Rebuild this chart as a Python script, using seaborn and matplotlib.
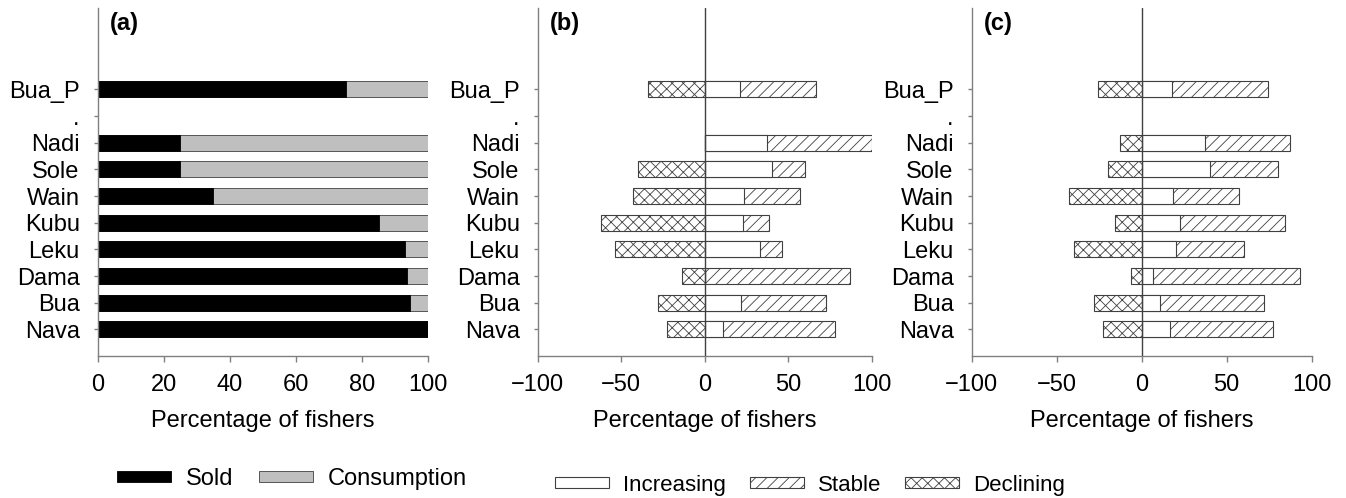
import matplotlib
matplotlib.use("Agg")
import matplotlib.pyplot as plt
from matplotlib.patches import Patch
import numpy as np
import pandas as pd
import seaborn as sns

# ---------------- data ----------------
villages = ["Bua_P", ".", "Nadi", "Sole", "Wain", "Kubu", "Leku", "Dama", "Bua", "Nava"]
data_villages = ["Bua_P", "Nadi", "Sole", "Wain", "Kubu", "Leku", "Dama", "Bua", "Nava"]

# panel (a)
sold = [75, 25, 25, 35, 85, 93, 93.5, 94.5, 100]
consumption = [25, 75, 75, 65, 15, 7, 6.5, 5.5, 0]

# panel (b)
b_increasing = [21, 37.5, 40, 23.5, 23, 33, 0, 22, 11]
b_stable = [45.5, 62.5, 20, 33.5, 15.5, 13.5, 87, 50.5, 67]
b_declining = [34, 0, 40, 43, 62, 54, 13.5, 28, 22.5]

# panel (c)
c_increasing = [18, 37.5, 40, 18.5, 22.5, 20, 6.5, 11, 16.5]
c_stable = [56, 50, 40, 38.5, 62, 40, 86.5, 61, 61]
c_declining = [26, 12.5, 20, 43, 15.5, 40, 6.5, 28, 22.5]

xticks_a = [0, 20, 40, 60, 80, 100]
xticks_bc = [-100, -50, 0, 50, 100]
panel_labels = ["(a)", "(b)", "(c)"]
xlabel = "Percentage of fishers"

# ---------------- style ----------------
sns.set_style("white")
plt.rcParams["font.family"] = ["Liberation Sans", "DejaVu Sans"]
plt.rcParams["hatch.linewidth"] = 0.6
plt.rcParams["hatch.color"] = "#404040"
plt.rcParams["text.color"] = "black"
plt.rcParams["axes.labelcolor"] = "black"
plt.rcParams["xtick.labelcolor"] = "black"
plt.rcParams["ytick.labelcolor"] = "black"

FS = 17
SPINE = "#808080"
EDGE = "#404040"

fig = plt.figure(figsize=(13.46, 4.98), dpi=100)
H = 498.0
W = 1346.0
top_px, bot_px = 8, 356
ax_h = (bot_px - top_px) / H
ax_b = (H - bot_px) / H
axA = fig.add_axes([97.7 / W, ax_b, 330.6 / W, ax_h])
axB = fig.add_axes([537.7 / W, ax_b, 334.0 / W, ax_h])
axC = fig.add_axes([971.7 / W, ax_b, 340.0 / W, ax_h])

# ---------------- panel (a) ----------------
dfa = pd.DataFrame({"village": data_villages,
                    "sold": sold,
                    "consumption": consumption})
dfa["total"] = dfa["sold"] + dfa["consumption"]

sns.barplot(data=dfa, y="village", x="total", order=villages, orient="h",
            color="#bfbfbf", saturation=1, errorbar=None, width=0.6,
            edgecolor=EDGE, linewidth=0.6, ax=axA)
sns.barplot(data=dfa, y="village", x="sold", order=villages, orient="h",
            color="black", saturation=1, errorbar=None, width=0.6,
            edgecolor="black", linewidth=0.6, ax=axA)
axA.set_xlim(0, 100)
axA.set_xticks(xticks_a)


def diverging(ax, inc, stab, dec):
    df = pd.DataFrame({"village": data_villages,
                       "inc": inc, "stab": stab, "dec": dec})
    df["cum"] = df["inc"] + df["stab"]
    df["neg"] = -df["dec"]
    sns.barplot(data=df, y="village", x="cum", order=villages, orient="h",
                color="white", saturation=1, errorbar=None, width=0.6,
                edgecolor=EDGE, linewidth=0.8, hatch="///", ax=ax)
    sns.barplot(data=df, y="village", x="inc", order=villages, orient="h",
                color="white", saturation=1, errorbar=None, width=0.6,
                edgecolor=EDGE, linewidth=0.8, ax=ax)
    sns.barplot(data=df, y="village", x="neg", order=villages, orient="h",
                color="white", saturation=1, errorbar=None, width=0.6,
                edgecolor=EDGE, linewidth=0.8, hatch="xxx", ax=ax)
    ax.axvline(0, color="#404040", lw=1.0, zorder=5)
    ax.set_xlim(-100, 100)
    ax.set_xticks(xticks_bc)


diverging(axB, b_increasing, b_stable, b_declining)
diverging(axC, c_increasing, c_stable, c_declining)

for ax, lab in zip([axA, axB, axC], panel_labels):
    ax.set_ylim(10.0, -3.05)
    ax.set_ylabel("")
    ax.set_xlabel(xlabel, fontsize=FS, labelpad=10)
    for s in ["top", "right"]:
        ax.spines[s].set_visible(False)
    for s in ["left", "bottom"]:
        ax.spines[s].set_color(SPINE)
        ax.spines[s].set_linewidth(1.0)
    ax.tick_params(axis="x", direction="out", length=4, width=1, color=SPINE,
                   labelsize=FS, pad=9, bottom=True, labelcolor="black")
    ax.tick_params(axis="y", direction="out", length=3, width=1, color=SPINE,
                   labelsize=FS, pad=10, left=True, labelcolor="black")
    ax.text(0.036, 0.955, lab, transform=ax.transAxes, fontsize=FS,
            fontweight="bold", va="center", ha="left", color="black")

# ---------------- legends ----------------
h1 = [Patch(facecolor="black", edgecolor="black", lw=0.6, label="Sold"),
      Patch(facecolor="#bfbfbf", edgecolor=EDGE, lw=0.6, label="Consumption")]
fig.legend(handles=h1, loc="center", bbox_to_anchor=(292 / W, (H - 479) / H),
           ncol=2, frameon=False, fontsize=17, handlelength=2.29,
           handleheight=0.3, handletextpad=0.65, columnspacing=1.05,
           labelcolor="black")

h2 = [Patch(facecolor="white", edgecolor=EDGE, lw=0.8, label="Increasing"),
      Patch(facecolor="white", edgecolor=EDGE, lw=0.8, hatch="///", label="Stable"),
      Patch(facecolor="white", edgecolor=EDGE, lw=0.8, hatch="xxx", label="Declining")]
fig.legend(handles=h2, loc="center", bbox_to_anchor=(810 / W, (H - 485) / H),
           ncol=3, frameon=False, fontsize=16, handlelength=2.43,
           handleheight=0.32, handletextpad=0.6, columnspacing=1.1,
           labelcolor="black")

fig.savefig("out.png", dpi=100)
